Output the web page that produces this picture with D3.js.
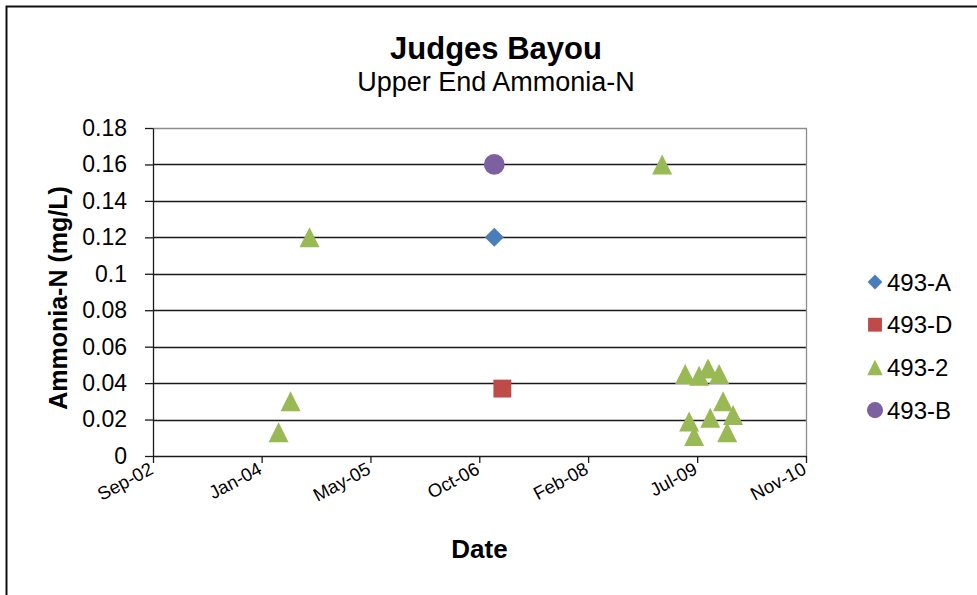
<!DOCTYPE html>
<html>
<head>
<meta charset="utf-8">
<script src="https://cdn.jsdelivr.net/npm/d3@7"></script>
<style>
  body { margin: 0; background: #fff; }
  text { font-family: "Liberation Sans", Arial, sans-serif; fill: #000; }
</style>
</head>
<body>
<script>
// series data
var seriesNames = ['493-A', '493-D', '493-2', '493-B'];
var seriesColors = ['#4a7ebb', '#be4b48', '#98b954', '#7d60a0'];
var seriesShapes = ['diamond', 'square', 'triangle', 'circle'];

var dates493A = ['2006-12-17'];
var values493A = [0.12];

var dates493D = ['2007-01-23'];
var values493D = [0.037];

var dates4932 = ['2004-03-31', '2004-05-25', '2004-08-20', '2009-01-26',
  '2009-05-12', '2009-07-15', '2009-08-25', '2009-10-15',
  '2009-11-02', '2009-05-30', '2009-09-04', '2009-06-22',
  '2009-12-18', '2009-11-21'];
var values4932 = [0.013, 0.03, 0.12, 0.16,
  0.045, 0.044, 0.048, 0.045,
  0.03, 0.019, 0.021, 0.011,
  0.0225, 0.013];

var dates493B = ['2006-12-17'];
var values493B = [0.16];

var xTickDates = ['2002-09-01', '2004-01-13', '2005-05-27', '2006-10-09',
  '2008-02-21', '2009-07-06', '2010-11-18'];
var xTickLabels = ['Sep-02', 'Jan-04', 'May-05', 'Oct-06', 'Feb-08', 'Jul-09', 'Nov-10'];
var yTicks = [0, 0.02, 0.04, 0.06, 0.08, 0.1, 0.12, 0.14, 0.16, 0.18];

var W = 977, H = 595;
var margin = { top: 128, right: 171, bottom: 139, left: 153 },
  width = W - margin.left - margin.right,
  height = H - margin.top - margin.bottom;

var parse = d3.timeParse('%Y-%m-%d');

var svgRoot = d3.select('body').append('svg')
  .attr('width', W)
  .attr('height', H);

// outer chart frame (right and bottom run off the picture)
svgRoot.append('path')
  .attr('d', 'M6.5,' + (H + 5) + 'V6.5H' + (W + 5))
  .attr('fill', 'none')
  .attr('stroke', '#111')
  .attr('stroke-width', 2);

svgRoot.append('text')
  .attr('x', 496).attr('y', 59)
  .attr('text-anchor', 'middle')
  .style('font-size', '31px')
  .style('font-weight', 'bold')
  .text('Judges Bayou');

svgRoot.append('text')
  .attr('x', 496).attr('y', 91)
  .attr('text-anchor', 'middle')
  .style('font-size', '27px')
  .text('Upper End Ammonia-N');

var svg = svgRoot.append('g')
  .attr('transform', 'translate(' + margin.left + ',' + margin.top + ')');

var xScale = d3.scaleTime()
  .domain([parse(xTickDates[0]), parse(xTickDates[xTickDates.length - 1])])
  .range([0, width]);

var yScale = d3.scaleLinear()
  .domain([0, 0.18])
  .range([height, 0]);

// gridlines
svg.append('g')
  .selectAll('line')
  .data(yTicks.slice(1, -1))
  .enter()
  .append('line')
  .attr('x1', 0)
  .attr('x2', width)
  .attr('y1', function (d) { return Math.round(yScale(d)) + 0.5; })
  .attr('y2', function (d) { return Math.round(yScale(d)) + 0.5; })
  .attr('stroke', '#1a1a1a')
  .attr('stroke-width', 1.6);

// top and right edges of plot area
svg.append('path')
  .attr('d', 'M0,0.5H' + (width + 0.5) + 'V' + height)
  .attr('fill', 'none')
  .attr('stroke', '#8c8c8c')
  .attr('stroke-width', 1.3);

var yAxis = d3.axisLeft(yScale)
  .tickValues(yTicks)
  .tickSize(8)
  .tickSizeOuter(0)
  .tickPadding(18)
  .tickFormat(function (d) { return String(+d.toFixed(2)); });

var yg = svg.append('g').attr('class', 'y axis').call(yAxis);
yg.select('.domain').attr('stroke', '#1a1a1a').attr('stroke-width', 1.3);
yg.selectAll('.tick line').attr('stroke', '#1a1a1a').attr('stroke-width', 1.3);
yg.selectAll('.tick text')
  .style('font-size', '23px')
  .style('font-family', '"Liberation Sans", Arial, sans-serif')
  .attr('fill', '#2a2a2a');

var xAxis = d3.axisBottom(xScale)
  .tickValues(xTickDates.map(parse))
  .tickSize(7)
  .tickSizeOuter(0)
  .tickFormat(function (d, i) { return xTickLabels[i]; });

var xg = svg.append('g')
  .attr('class', 'x axis')
  .attr('transform', 'translate(0,' + height + ')')
  .call(xAxis);
xg.select('.domain').attr('stroke', '#1a1a1a').attr('stroke-width', 1.3);
xg.selectAll('.tick line').attr('stroke', '#1a1a1a').attr('stroke-width', 1.3);
xg.selectAll('.tick text')
  .style('font-size', '18.5px')
  .style('font-family', '"Liberation Sans", Arial, sans-serif')
  .attr('fill', '#2a2a2a')
  .attr('text-anchor', 'end')
  .attr('dy', null)
  .attr('y', 0)
  .attr('transform', 'translate(1,17) rotate(-28)');

svg.append('text')
  .attr('x', width / 2)
  .attr('y', height + 102)
  .attr('text-anchor', 'middle')
  .style('font-size', '26px')
  .style('font-weight', 'bold')
  .text('Date');

svg.append('text')
  .attr('transform', 'rotate(-90)')
  .attr('x', -170)
  .attr('y', -86)
  .attr('text-anchor', 'middle')
  .style('font-size', '25px')
  .style('font-weight', 'bold')
  .text('Ammonia-N (mg/L)');

// spreadsheet style triangle: as tall as it is wide, box centred on the point
var boxTriangle = {
  draw: function (context, size) {
    var w = Math.sqrt(size);
    context.moveTo(0, -w / 2);
    context.lineTo(w / 2, w / 2);
    context.lineTo(-w / 2, w / 2);
    context.closePath();
  }
};

// diamond is a square turned 45 degrees
var symbolTypes = {
  diamond: d3.symbolSquare,
  square: d3.symbolSquare,
  triangle: boxTriangle,
  circle: d3.symbolCircle
};
var symbolSizes = { diamond: 182, square: 320, triangle: 400, circle: 340 };
var symbolRotate = { diamond: 45, square: 0, triangle: 0, circle: 0 };

var allDates = [dates493A, dates493D, dates4932, dates493B];
var allValues = [values493A, values493D, values4932, values493B];

seriesNames.forEach(function (name, s) {
  var pts = allDates[s].map(function (d, i) {
    return { date: parse(d), value: allValues[s][i] };
  });
  var shape = seriesShapes[s];
  svg.append('g')
    .selectAll('path')
    .data(pts)
    .enter()
    .append('path')
    .attr('d', d3.symbol().type(symbolTypes[shape]).size(symbolSizes[shape]))
    .attr('transform', function (d) {
      return 'translate(' + xScale(d.date) + ',' + yScale(d.value) + ') rotate(' + symbolRotate[shape] + ')';
    })
    .attr('fill', seriesColors[s]);
});

// legend
var legend = svgRoot.append('g')
  .selectAll('g')
  .data(seriesNames)
  .enter()
  .append('g')
  .attr('transform', function (d, i) {
    return 'translate(875,' + (282 + i * 42.7) + ')';
  });

legend.append('path')
  .attr('d', function (d, i) {
    var shape = seriesShapes[i];
    return d3.symbol().type(symbolTypes[shape]).size(symbolSizes[shape] * 0.6)();
  })
  .attr('transform', function (d, i) { return 'rotate(' + symbolRotate[seriesShapes[i]] + ')'; })
  .attr('fill', function (d, i) { return seriesColors[i]; });

legend.append('text')
  .attr('x', 12)
  .attr('y', 8.5)
  .style('font-size', '24px')
  .attr('fill', '#2a2a2a')
  .text(function (d) { return d; });
</script>
</body>
</html>
